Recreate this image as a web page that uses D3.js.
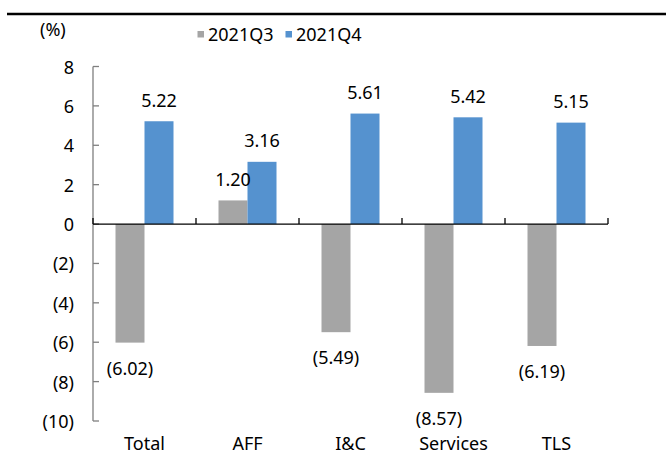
<!DOCTYPE html>
<html>
<head>
  <meta charset="UTF-8">
  <title>2021Q3 vs 2021Q4</title>
  <style>
    body { margin: 0; background: #fff; }
    svg text { font-family: "Noto Sans", sans-serif; font-size: 18px; fill: #000; }
  </style>
</head>
<body>
  <svg></svg>
  <script src="https://d3js.org/d3.v7.min.js"></script>
  <script>
    // data
    const categories = ["Total", "AFF", "I&C", "Services", "TLS"];
    const seriesNames = ["2021Q3", "2021Q4"];
    const q3Values = [-6.02, 1.20, -5.49, -8.57, -6.19];
    const q4Values = [5.22, 3.16, 5.61, 5.42, 5.15];
    const yTicks = [8, 6, 4, 2, 0, -2, -4, -6, -8, -10];
    const colors = ["#a5a5a5", "#5592cf"];

    let width = 666, height = 455;
    let svg = d3.select("svg").attr("width", width).attr("height", height);

    const fmt = v => v < 0 ? "(" + Math.abs(v).toFixed(2) + ")" : v.toFixed(2);
    const tickFmt = v => v < 0 ? "(" + Math.abs(v) + ")" : String(v);

    // top rule
    svg.append("line")
      .attr("x1", 7).attr("x2", width).attr("y1", 14).attr("y2", 14)
      .attr("stroke", "#000").attr("stroke-width", 2.5);

    let x0 = d3.scaleBand().domain(categories).range([93, 608]).padding(0);
    let x1 = d3.scaleBand().domain(seriesNames).range([-29, 29]);
    let y = d3.scaleLinear().domain([-10, 8]).range([421, 66.5]);

    // y axis
    let yAxis = svg.append("g");
    yAxis.append("line")
      .attr("x1", 93).attr("x2", 93).attr("y1", y(8)).attr("y2", y(-10))
      .attr("stroke", "#7f7f7f").attr("stroke-width", 1.3);
    yAxis.selectAll("line.tick").data(yTicks).enter().append("line")
      .attr("class", "tick")
      .attr("x1", 93).attr("x2", 99)
      .attr("y1", d => y(d)).attr("y2", d => y(d))
      .attr("stroke", "#7f7f7f").attr("stroke-width", 1.3);
    yAxis.selectAll("text").data(yTicks).enter().append("text")
      .attr("x", 74).attr("y", d => y(d))
      .attr("text-anchor", "end").attr("dominant-baseline", "central")
      .text(tickFmt);

    svg.append("text").attr("x", 40).attr("y", 29)
      .attr("dominant-baseline", "central").text("(%)");

    // bars
    const rows = categories.map((c, i) => ({ cat: c, vals: [q3Values[i], q4Values[i]] }));
    let groups = svg.selectAll("g.cat").data(rows).enter().append("g")
      .attr("class", "cat")
      .attr("transform", d => `translate(${x0(d.cat) + x0.bandwidth() / 2},0)`);
    groups.selectAll("rect")
      .data(d => d.vals.map((v, k) => ({ s: seriesNames[k], v: v, k: k })))
      .enter().append("rect")
      .attr("x", d => x1(d.s))
      .attr("width", x1.bandwidth())
      .attr("y", d => y(Math.max(0, d.v)))
      .attr("height", d => Math.abs(y(d.v) - y(0)))
      .attr("fill", d => colors[d.k]);
    groups.selectAll("text")
      .data(d => d.vals.map((v, k) => ({ s: seriesNames[k], v: v, k: k })))
      .enter().append("text")
      .attr("x", d => x1(d.s) + x1.bandwidth() / 2)
      .attr("y", d => d.v >= 0 ? y(d.v) - 21.5 : y(d.v) + 25)
      .attr("text-anchor", "middle").attr("dominant-baseline", "central")
      .text(d => fmt(d.v));

    // x axis at zero
    let xAxis = svg.append("g");
    xAxis.append("line")
      .attr("x1", 93).attr("x2", 608).attr("y1", y(0)).attr("y2", y(0))
      .attr("stroke", "#000").attr("stroke-width", 1.3);
    const bounds = categories.map(c => x0(c)).concat([x0.range()[1]]);
    xAxis.selectAll("line.tick").data(bounds).enter().append("line")
      .attr("class", "tick")
      .attr("x1", d => d).attr("x2", d => d)
      .attr("y1", y(0)).attr("y2", y(0) - 6)
      .attr("stroke", "#000").attr("stroke-width", 1.3);
    xAxis.selectAll("text").data(categories).enter().append("text")
      .attr("x", d => x0(d) + x0.bandwidth() / 2).attr("y", 450)
      .attr("text-anchor", "middle")
      .text(d => d);

    // legend
    let legend = svg.append("g");
    const legendX = [197.5, 285.5];
    seriesNames.forEach((s, k) => {
      legend.append("rect")
        .attr("x", legendX[k]).attr("y", 31).attr("width", 6.5).attr("height", 6.5)
        .attr("fill", colors[k]);
      legend.append("text")
        .attr("x", legendX[k] + 10.5).attr("y", 34)
        .attr("dominant-baseline", "central").text(s);
    });
  </script>
</body>
</html>
